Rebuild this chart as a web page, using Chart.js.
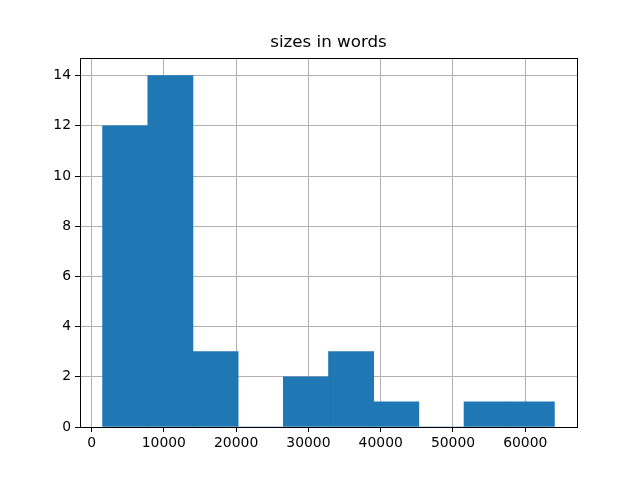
<!DOCTYPE html>
<html>
<head>
<meta charset="utf-8">
<script src="https://cdn.jsdelivr.net/npm/chart.js@4/dist/chart.umd.min.js"></script>
<style>
  html, body { margin: 0; padding: 0; background: #fff; }
  #wrap { width: 640px; height: 480px; }
</style>
</head>
<body>
<div id="wrap"><canvas id="hist"></canvas></div>
<script>
// histogram of sizes in words, 10 bins
var binEdges = [1528, 7778, 14028, 20278, 26528, 32778, 39028, 45278, 51528, 57778, 64028];
var counts = [12, 14, 3, 0, 2, 3, 1, 0, 1, 1];
var xTicks = [0, 10000, 20000, 30000, 40000, 50000, 60000];
var yTicks = [0, 2, 4, 6, 8, 10, 12, 14];

var BarData = [];
for (var i = 0; i < counts.length; i++) {
    BarData.push({ x: (binEdges[i] + binEdges[i + 1]) / 2, y: counts[i] });
}
var span = binEdges[binEdges.length - 1] - binEdges[0];
var xMin = binEdges[0] - span * 0.05;
var xMax = binEdges[binEdges.length - 1] + span * 0.05;
var yMax = Math.max.apply(null, counts) * 1.05;

// black box round the plot area, like the matplotlib spines
var frame = {
    id: 'frame',
    afterDraw: function (chart) {
        var a = chart.chartArea, c = chart.ctx;
        c.save();
        c.strokeStyle = '#000';
        c.lineWidth = 1;
        c.strokeRect(Math.round(a.left) + 0.5, Math.round(a.top) + 0.5,
            Math.round(a.right - a.left), Math.round(a.bottom - a.top));
        c.restore();
    }
};

var tickFont = { family: 'DejaVu Sans', size: 13.9 };

var ctx = document.getElementById('hist').getContext('2d');
var histChart = new Chart(ctx, {
    type: 'bar',
    data: {
        datasets: [{
            label: 'sizes in words',
            data: BarData,
            backgroundColor: '#1f77b4',
            borderWidth: 0,
            barPercentage: 1,
            categoryPercentage: 1,
            grouped: false
        }]
    },
    options: {
        responsive: true,
        maintainAspectRatio: false,
        animation: false,
        layout: { padding: { left: 0, right: 63, top: 0, bottom: 0 } },
        plugins: {
            legend: { display: false },
            tooltip: { enabled: false },
            title: {
                display: true,
                fullSize: false,
                text: 'sizes in words',
                color: '#000',
                font: { family: 'DejaVu Sans', size: 16.7, weight: 'normal' },
                padding: { top: 33, bottom: 5 }
            }
        },
        scales: {
            x: {
                type: 'linear',
                min: xMin,
                max: xMax,
                offset: false,
                z: 1,
                afterBuildTicks: function (axis) {
                    axis.ticks = xTicks.map(function (v) { return { value: v }; });
                },
                afterFit: function (axis) { axis.height = 53; },
                ticks: {
                    color: '#000',
                    font: tickFont,
                    padding: 3,
                    maxRotation: 0,
                    autoSkip: false,
                    callback: function (v) { return String(v); }
                },
                grid: {
                    offset: false,
                    color: '#b0b0b0',
                    lineWidth: 1,
                    tickColor: '#000',
                    tickLength: 5
                },
                border: { color: '#000', width: 1 }
            },
            y: {
                min: 0,
                max: yMax,
                z: 1,
                afterBuildTicks: function (axis) {
                    axis.ticks = yTicks.map(function (v) { return { value: v }; });
                },
                afterFit: function (axis) { axis.width = 80; },
                ticks: {
                    color: '#000',
                    font: tickFont,
                    padding: 4,
                    autoSkip: false
                },
                grid: {
                    color: '#b0b0b0',
                    lineWidth: 1,
                    tickColor: '#000',
                    tickLength: 5
                },
                border: { color: '#000', width: 1 }
            }
        }
    },
    plugins: [frame]
});
</script>
</body>
</html>
